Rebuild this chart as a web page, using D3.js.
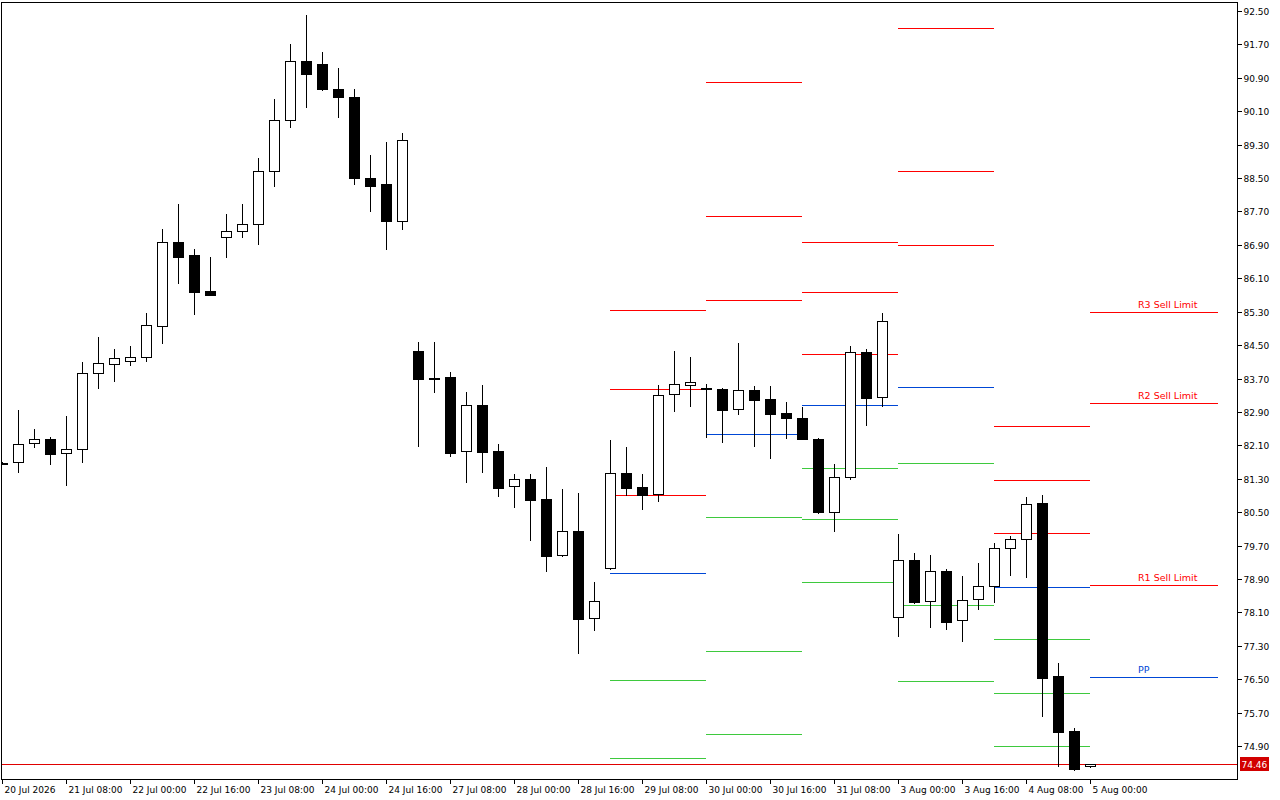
<!DOCTYPE html>
<html>
<head>
<meta charset="UTF-8">
<title>Pivot levels</title>
<script src="https://d3js.org/d3.v7.min.js"></script>
<style>
  body { margin: 0; background: #fff; font-family: Tahoma, "DejaVu Sans", Verdana, sans-serif; }
  svg text { font-size: 9px; }
</style>
</head>
<body>
<div id="chart"></div>
<script>
// OHLC, H4 bars
const opens  = [81.68,81.70,82.15,82.25,81.91,82.01,83.82,84.04,84.13,84.21,84.95,86.98,86.65,85.79,87.08,87.24,87.41,88.68,89.90,91.31,91.24,90.64,90.45,88.51,88.35,87.48,84.37,83.71,83.73,81.96,83.06,81.96,81.12,81.29,80.81,79.47,80.04,77.96,79.16,81.43,81.10,80.93,83.32,83.54,83.48,83.46,82.96,83.42,83.20,82.87,82.75,82.25,80.50,81.34,84.33,83.25,77.99,79.35,78.37,79.09,77.91,78.42,78.73,79.64,79.85,80.71,76.58,75.26,74.42];
const highs  = [81.69,82.94,82.48,82.29,82.80,84.09,84.69,84.40,84.47,85.28,87.29,87.89,86.79,86.60,87.65,87.89,88.99,90.40,91.72,92.41,91.53,91.14,90.64,89.06,89.37,89.59,84.57,84.57,83.85,83.37,83.54,82.13,81.41,81.41,81.58,81.05,80.95,78.82,82.22,82.05,81.41,83.54,84.35,84.21,83.58,83.47,84.54,83.51,83.51,83.13,83.01,82.27,81.65,84.47,84.40,85.28,79.97,79.52,79.47,79.14,78.97,79.28,79.76,79.92,80.86,80.90,76.89,75.33,74.46];
const lows   = [81.65,81.46,82.05,81.65,81.14,81.70,83.47,83.63,84.02,84.11,84.54,85.98,85.24,85.69,86.60,87.08,86.91,88.30,89.73,90.19,90.62,89.95,88.35,87.70,86.79,87.27,82.08,83.37,81.84,81.22,81.46,80.88,80.62,79.83,79.09,79.45,77.13,77.68,79.14,80.91,80.57,80.76,82.92,83.03,82.29,82.17,82.84,82.08,81.79,82.27,82.24,80.47,80.04,81.29,82.58,83.03,77.53,78.33,77.75,77.70,77.41,78.18,78.35,78.99,78.94,75.62,74.42,74.33,74.40];
const closes = [81.66,82.13,82.25,81.89,82.01,83.82,84.06,84.18,84.21,84.97,86.98,86.60,85.76,85.69,87.24,87.39,88.68,89.90,91.31,90.98,90.64,90.43,88.49,88.30,87.46,89.42,83.68,83.69,81.91,83.06,81.93,81.07,81.29,80.79,79.45,80.04,77.94,78.37,81.43,81.07,80.91,83.30,83.56,83.61,83.46,82.94,83.42,83.18,82.84,82.75,82.25,80.50,81.34,84.33,83.23,85.07,79.35,78.35,79.09,77.87,78.39,78.73,79.64,79.85,80.69,76.53,75.24,74.35,74.46];

const timeLabels = ["20 Jul 2026","21 Jul 08:00","22 Jul 00:00","22 Jul 16:00","23 Jul 08:00","24 Jul 00:00","24 Jul 16:00","27 Jul 08:00","28 Jul 00:00","28 Jul 16:00","29 Jul 08:00","30 Jul 00:00","30 Jul 16:00","31 Jul 08:00","3 Aug 00:00","3 Aug 16:00","4 Aug 08:00","5 Aug 00:00"];

// daily pivot levels: start bar, end bar, [R3,R2,R1,PP,S1,S2,S3]
const pivotStart = [38, 44, 50, 56, 62, 68];
const pivotEnd   = [44, 50, 56, 62, 68, 76];
const pivotLevels = [
  [85.33, 83.44, 80.91, 79.04, 76.48, 74.61, null],
  [90.79, 87.58, 85.59, 82.36, 80.38, 77.17, 75.19],
  [86.98, 85.76, 84.28, 83.06, 81.55, 80.33, 78.82],
  [92.10, 88.68, 86.89, 83.49, 81.67, 78.27, 76.46],
  [82.56, 81.26, 80.00, 78.70, 77.46, 76.17, 74.90],
  [85.30, 83.11, 78.75, 76.55, null, null, null]
];
const levelNames = ["R3 Sell Limit", "R2 Sell Limit", "R1 Sell Limit", "PP"];
const levelColors = ["#ff0000","#ff0000","#ff0000","#0047d6","#3ec93e","#3ec93e","#3ec93e"];

const lastPrice = 74.46;
const priceTicks = d3.range(0, 23).map(i => +(74.90 + i * 0.8).toFixed(2));

const width = 1280, height = 800;
const plotRight = 1237, plotBottom = 779;

const svg = d3.select("#chart").append("svg")
  .attr("width", width).attr("height", height)
  .style("shape-rendering", "crispEdges");

const x = d3.scaleLinear().domain([0, 76]).range([2, 1218]);
const y = d3.scaleLinear().domain([74.90, 92.50]).range([746, 11]);

// frame
svg.append("rect").attr("x", 1.5).attr("y", 2.5)
  .attr("width", plotRight - 1.5).attr("height", plotBottom - 2.5)
  .attr("fill", "none").attr("stroke", "#000");

const plot = svg.append("g");
plot.append("clipPath").attr("id", "clip").append("rect")
  .attr("x", 2).attr("y", 3).attr("width", plotRight - 2).attr("height", plotBottom - 3);
const g = plot.append("g").attr("clip-path", "url(#clip)");

// pivot lines
pivotStart.forEach((s, p) => {
  pivotLevels[p].forEach((v, k) => {
    if (v === null) return;
    g.append("line")
      .attr("x1", x(s)).attr("x2", x(pivotEnd[p]))
      .attr("y1", Math.round(y(v)) + 0.5).attr("y2", Math.round(y(v)) + 0.5)
      .attr("stroke", levelColors[k]).attr("stroke-width", 1);
    if (p === pivotStart.length - 1) {
      g.append("text")
        .attr("x", x(71)).attr("y", Math.round(y(v)) - 4)
        .attr("fill", levelColors[k])
        .style("font-size", "9.5px")
        .text(levelNames[k]);
    }
  });
});

// last price line
g.append("line").attr("x1", 2).attr("x2", plotRight)
  .attr("y1", Math.round(y(lastPrice)) + 0.5).attr("y2", Math.round(y(lastPrice)) + 0.5)
  .attr("stroke", "#e00000");

// candles
const bars = d3.range(opens.length);
g.selectAll(".wick").data(bars).enter().append("line")
  .attr("x1", i => Math.round(x(i)) + 0.5).attr("x2", i => Math.round(x(i)) + 0.5)
  .attr("y1", i => Math.round(y(highs[i]))).attr("y2", i => Math.round(y(lows[i])) + 1)
  .attr("stroke", "#000");
g.selectAll(".body").data(bars).enter().append("rect")
  .attr("x", i => Math.round(x(i)) - 4.5)
  .attr("y", i => Math.round(y(Math.max(opens[i], closes[i]))) + 0.5)
  .attr("width", 10)
  .attr("height", i => Math.max(1, Math.round(y(Math.min(opens[i], closes[i]))) - Math.round(y(Math.max(opens[i], closes[i])))))
  .attr("fill", i => closes[i] >= opens[i] ? "#fff" : "#000")
  .attr("stroke", "#000");

// price axis
const yAxis = svg.append("g").attr("transform", `translate(${plotRight + 0.5},0)`);
priceTicks.forEach(t => {
  const yy = Math.round(y(t)) + 0.5;
  yAxis.append("line").attr("x1", 0).attr("x2", 4).attr("y1", yy).attr("y2", yy).attr("stroke", "#000");
  yAxis.append("text").attr("x", 6).attr("y", yy + 3.5).attr("fill", "#000").text(t.toFixed(2));
});
yAxis.append("rect").attr("x", 2).attr("y", Math.round(y(lastPrice)) - 7)
  .attr("width", 29).attr("height", 14).attr("fill", "#d20000");
yAxis.append("text").attr("x", 4).attr("y", Math.round(y(lastPrice)) + 4)
  .attr("fill", "#fff").text(lastPrice.toFixed(2));

// time axis
const xAxis = svg.append("g").attr("transform", `translate(0,${plotBottom + 0.5})`);
timeLabels.forEach((lab, k) => {
  const xx = Math.round(x(k * 4)) + 0.5;
  xAxis.append("line").attr("x1", xx).attr("x2", xx).attr("y1", 0).attr("y2", 4).attr("stroke", "#000");
  xAxis.append("text").attr("x", xx + 2).attr("y", 13).attr("fill", "#000").text(lab);
});
</script>
</body>
</html>
